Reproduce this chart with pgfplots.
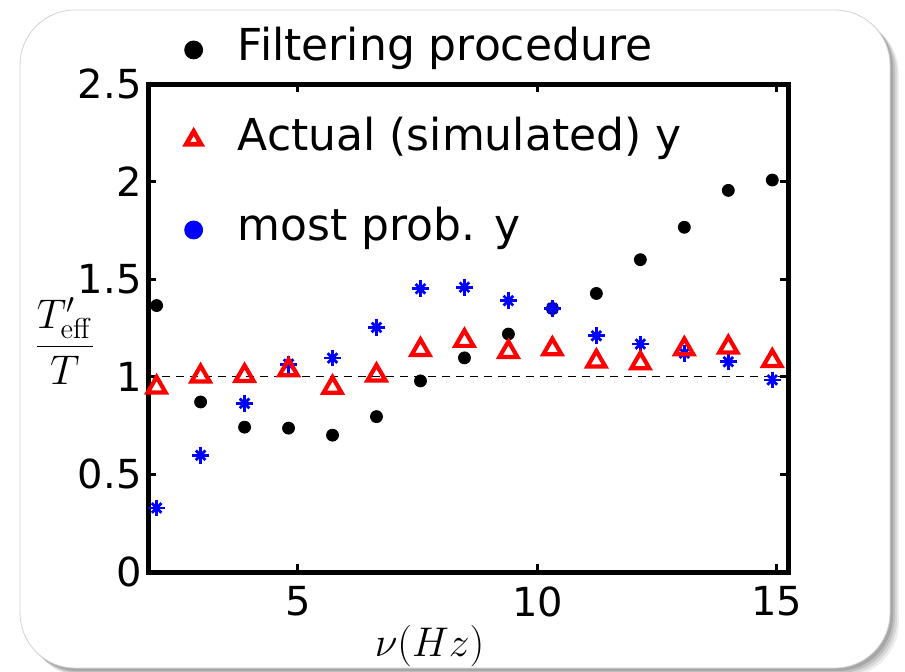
\documentclass[border=0pt]{standalone}
\usepackage[no-math]{fontspec}
\setmainfont{DejaVu Sans}
\usepackage{pgfplots}
\usepackage{pgfplotstable}
\pgfplotsset{compat=1.18}

\pgfplotstableread{
x       filt   actual  prob
2.050   1.365  0.946   0.328
2.968   0.871  1.003   0.598
3.886   0.742  1.005   0.864
4.804   0.737  1.035   1.065
5.722   0.701  0.945   1.096
6.640   0.796  1.008   1.253
7.558   0.979  1.138   1.451
8.476   1.097  1.185   1.459
9.394   1.219  1.128   1.390
10.312  1.350  1.142   1.351
11.230  1.427  1.079   1.210
12.148  1.600  1.070   1.168
13.066  1.766  1.142   1.121
13.984  1.955  1.151   1.077
14.902  2.008  1.082   0.984
}\datatable

\begin{document}
\begin{tikzpicture}
\useasboundingbox (0,0) rectangle (452.5pt,335.5pt);
% shadow
\foreach \s/\o in {4.5/0.07,3.5/0.09,2.5/0.11,1.5/0.13} {
  \fill[black,opacity=\o,rounded corners=27.5pt] ({10pt+\s*1pt},{1.5pt-\s*1pt}) rectangle ({445pt+\s*1pt},{330.5pt-\s*1pt});
}
\filldraw[fill=white,draw=gray!35,line width=0.4pt,rounded corners=27.5pt] (10pt,1.5pt) rectangle (445pt,330.5pt);

\begin{axis}[
  at={(74pt,49.5pt)}, anchor=south west,
  scale only axis, width=320pt, height=244pt,
  xmin=1.87, xmax=15.23, ymin=0, ymax=2.5,
  xtick={5,10,15}, ytick={0,0.5,1,1.5,2,2.5},
  minor tick num=0,
  tick align=inside, major tick length=4pt,
  every tick/.style={black, line width=1.5pt},
  axis line style={line width=2.5pt},
  tick label style={font=\fontsize{20}{24}\selectfont},
  /pgf/number format/assume math mode=true,
  yticklabel style={inner sep=0pt, xshift=-3pt},
  xticklabel style={inner sep=0pt, yshift=-7pt},
  xlabel={$\nu(Hz)$},
  xlabel style={at={(axis description cs:0.44,0)}, anchor=center, yshift=-37pt, font=\fontsize{21}{25}\selectfont},
  ylabel={$\displaystyle\frac{T'_{\mathrm{eff}}}{T}$},
  ylabel style={at={(axis description cs:-0.13,0.473)}, anchor=center, rotate=-90, font=\fontsize{20}{24}\selectfont},
  clip=false,
  legend cell align=left,
  legend style={at={(rel axis cs:0.039,1.13)}, anchor=north west, draw=none, fill=none,
    font=\fontsize{22}{26}\selectfont, row sep=20pt,
    nodes={text height=16pt, text depth=5pt, inner sep=2pt}},
  legimg/.style={legend image code/.code={\draw[##1] plot coordinates {(0pt,0pt)}; \path (-6pt,0pt) (19pt,0pt);}},
]
\addplot[black, dashed, dash pattern=on 4pt off 3pt, line width=0.5pt, forget plot] coordinates {(1.87,1) (15.23,1)};

\addplot[only marks, mark=*, black, mark size=3pt, forget plot] table[x=x, y=filt] {\datatable};
\addplot[only marks, mark=+, blue, mark size=4.2pt, line width=1.4pt, forget plot] table[x=x, y=prob] {\datatable};
\addplot[only marks, mark=x, blue, mark size=3.4pt, line width=1.4pt, forget plot] table[x=x, y=prob] {\datatable};
\addplot[only marks, mark=triangle, red, mark size=5.2pt, line width=2.1pt, forget plot] table[x=x, y=actual] {\datatable};

\addlegendimage{only marks, mark=*, black, mark size=4.5pt, legimg}
\addlegendentry{Filtering procedure}
\addlegendimage{only marks, mark=triangle, red, mark size=4.3pt, line width=2.3pt, legimg}
\addlegendentry{Actual (simulated) y}
\addlegendimage{only marks, mark=*, blue, mark size=4.5pt, legimg}
\addlegendentry{most prob. y}
\end{axis}
\end{tikzpicture}
\end{document}
